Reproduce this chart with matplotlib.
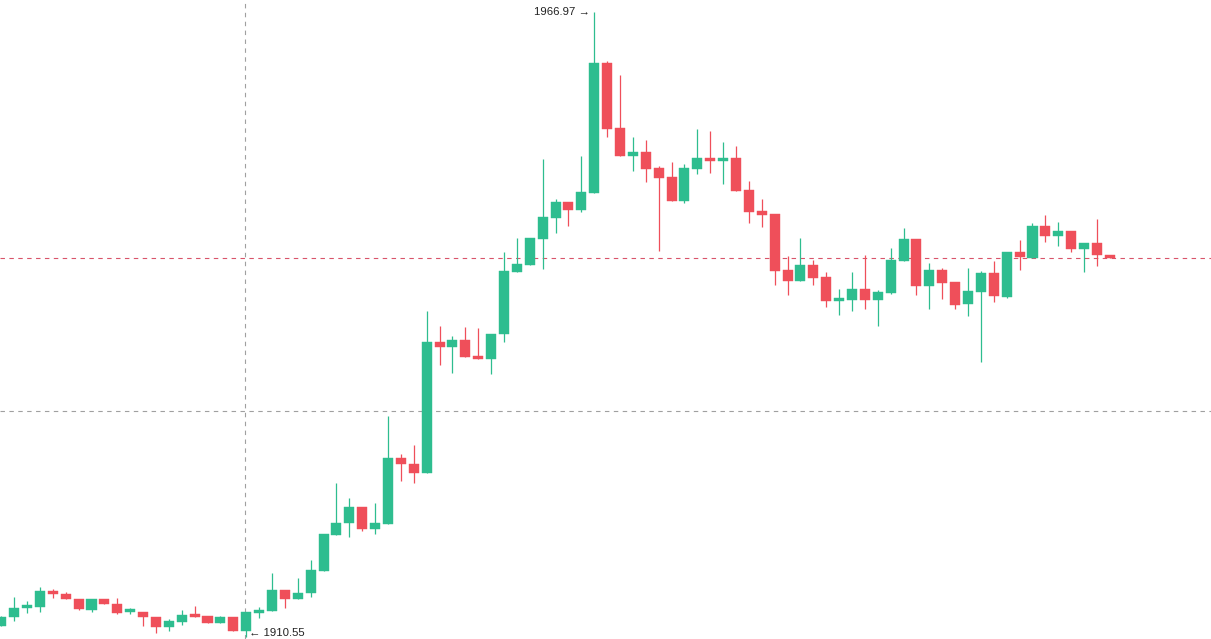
import matplotlib
matplotlib.use("Agg")
import matplotlib.pyplot as plt
from matplotlib.patches import Rectangle

# OHLC, one entry per candle (left to right)
opens = [1911.52, 1912.33, 1913.15, 1913.24, 1914.68, 1914.41, 1913.96, 1912.97, 1913.96, 1913.51,
         1912.79, 1912.79, 1912.33, 1911.43, 1911.88, 1912.52, 1912.42, 1911.79, 1912.33, 1911.07,
         1912.70, 1912.88, 1914.77, 1913.96, 1914.50, 1916.49, 1919.74, 1920.82, 1922.27, 1920.28,
         1920.73, 1926.69, 1926.15, 1925.34, 1937.17, 1936.72, 1937.35, 1935.90, 1935.63, 1937.89,
         1943.49, 1944.12, 1946.47, 1948.36, 1949.81, 1949.09, 1950.62, 1962.36, 1956.49, 1953.96,
         1954.32, 1952.88, 1952.07, 1949.90, 1952.79, 1953.78, 1953.51, 1953.78, 1950.89, 1949.00,
         1948.73, 1943.67, 1942.68, 1944.12, 1943.04, 1940.87, 1940.96, 1941.95, 1940.96, 1941.59,
         1944.48, 1946.47, 1942.22, 1943.67, 1942.59, 1940.60, 1941.68, 1943.40, 1941.23, 1945.29,
         1944.75, 1947.64, 1946.74, 1947.19, 1945.57, 1946.11, 1944.93]
highs = [1912.42, 1914.14, 1913.78, 1915.04, 1914.86, 1914.59, 1913.96, 1913.96, 1913.96, 1914.05,
         1913.15, 1912.79, 1912.33, 1912.16, 1912.97, 1913.33, 1912.42, 1912.42, 1912.33, 1912.79,
         1913.24, 1916.31, 1914.77, 1915.86, 1917.48, 1919.83, 1924.44, 1923.08, 1922.27, 1922.63,
         1930.49, 1927.05, 1927.87, 1939.97, 1938.61, 1937.71, 1938.52, 1938.43, 1937.89, 1945.29,
         1946.56, 1946.56, 1953.69, 1950.08, 1949.81, 1953.96, 1966.97, 1962.54, 1961.28, 1955.68,
         1955.41, 1953.06, 1953.42, 1953.24, 1956.40, 1956.22, 1955.23, 1954.87, 1951.71, 1950.08,
         1948.73, 1944.93, 1946.56, 1944.57, 1943.49, 1941.95, 1943.49, 1945.02, 1941.86, 1945.66,
         1947.46, 1946.47, 1944.30, 1943.85, 1942.59, 1943.85, 1943.58, 1944.48, 1945.29, 1946.38,
         1947.91, 1948.64, 1948.00, 1947.19, 1946.11, 1948.27, 1944.93]
lows = [1911.52, 1911.97, 1912.70, 1912.79, 1914.05, 1913.96, 1912.97, 1912.79, 1913.51, 1912.61,
        1912.61, 1911.52, 1910.89, 1911.07, 1911.61, 1912.33, 1911.79, 1911.79, 1911.07, 1910.55,
        1912.25, 1912.88, 1913.15, 1913.96, 1914.14, 1916.49, 1919.74, 1919.56, 1920.10, 1919.83,
        1920.73, 1924.62, 1924.44, 1925.34, 1935.09, 1934.37, 1935.81, 1935.63, 1934.28, 1937.17,
        1943.49, 1944.12, 1943.76, 1947.01, 1947.64, 1948.91, 1950.62, 1955.68, 1953.96, 1952.61,
        1951.62, 1945.39, 1949.90, 1949.72, 1952.34, 1952.43, 1951.43, 1950.80, 1947.91, 1947.55,
        1942.32, 1941.41, 1942.68, 1942.32, 1940.33, 1939.61, 1939.97, 1940.15, 1938.61, 1941.50,
        1944.48, 1941.41, 1940.15, 1941.05, 1940.15, 1939.52, 1935.36, 1940.78, 1941.14, 1943.67,
        1944.75, 1946.20, 1945.84, 1945.29, 1943.49, 1944.03, 1944.75]
closes = [1912.33, 1913.15, 1913.33, 1914.68, 1914.41, 1913.96, 1913.06, 1913.96, 1913.51, 1912.70,
          1912.88, 1912.33, 1911.43, 1911.97, 1912.52, 1912.33, 1911.79, 1912.33, 1911.07, 1912.79,
          1912.97, 1914.77, 1913.96, 1914.50, 1916.58, 1919.83, 1920.82, 1922.27, 1920.28, 1920.82,
          1926.69, 1926.15, 1925.34, 1937.17, 1936.72, 1937.35, 1935.81, 1935.63, 1937.89, 1943.58,
          1944.21, 1946.56, 1948.45, 1949.81, 1949.09, 1950.71, 1962.36, 1956.40, 1953.96, 1954.32,
          1952.79, 1951.98, 1949.90, 1952.88, 1953.78, 1953.51, 1953.78, 1950.80, 1948.91, 1948.64,
          1943.58, 1942.68, 1944.12, 1942.95, 1940.87, 1941.05, 1941.95, 1940.96, 1941.68, 1944.57,
          1946.47, 1942.22, 1943.67, 1942.49, 1940.51, 1941.77, 1943.40, 1941.32, 1945.29, 1944.84,
          1947.64, 1946.74, 1947.19, 1945.57, 1946.11, 1945.02, 1944.75]

high_label = "1966.97"
low_label = "1910.55"
crosshair_idx = 19
crosshair_price = 1930.94

UP = "#2ebd8f"
DOWN = "#ef4f5a"

plt.rcParams['font.family'] = ['Liberation Sans', 'DejaVu Sans']

fig = plt.figure(figsize=(12.11, 6.39), dpi=100)
ax = fig.add_axes([0, 0, 1, 1])

w = 0.78
for i in range(len(opens)):
    o, h, l, c = opens[i], highs[i], lows[i], closes[i]
    col = UP if c >= o else DOWN
    ax.vlines(i, l, h, color=col, lw=0.9, zorder=3)
    bot = min(o, c)
    hgt = max(abs(c - o), 0.25)
    ax.add_patch(Rectangle((i - w / 2, bot), w, hgt, facecolor=col, edgecolor=col,
                           lw=0.3, zorder=4))

# last price line
ax.axhline(closes[-1], color="#d9546a", lw=0.8, ls=(0, (4, 4)), zorder=2)
# crosshair
ax.axhline(crosshair_price, color="#a0a0a0", lw=0.8, ls=(0, (4, 4)), zorder=2)
ax.axvline(crosshair_idx - 0.08, color="#a0a0a0", lw=0.8, ls=(0, (4, 4)), zorder=2)

# high / low markers
hi = highs.index(max(highs))
lo = lows.index(min(lows))
ax.text(hi - 0.3, max(highs), high_label + " \u2192", ha="right", va="center",
        fontsize=8.2, color="#222222")
ax.text(lo + 0.2, min(lows) + 0.3, "\u2190 " + low_label, ha="left", va="center",
        fontsize=8.2, color="#222222")

ax.set_xlim(-0.1, 93.85)
ax.set_ylim(1910.35, 1968.05)
ax.axis("off")

fig.savefig("out.png", dpi=100, facecolor="white")
